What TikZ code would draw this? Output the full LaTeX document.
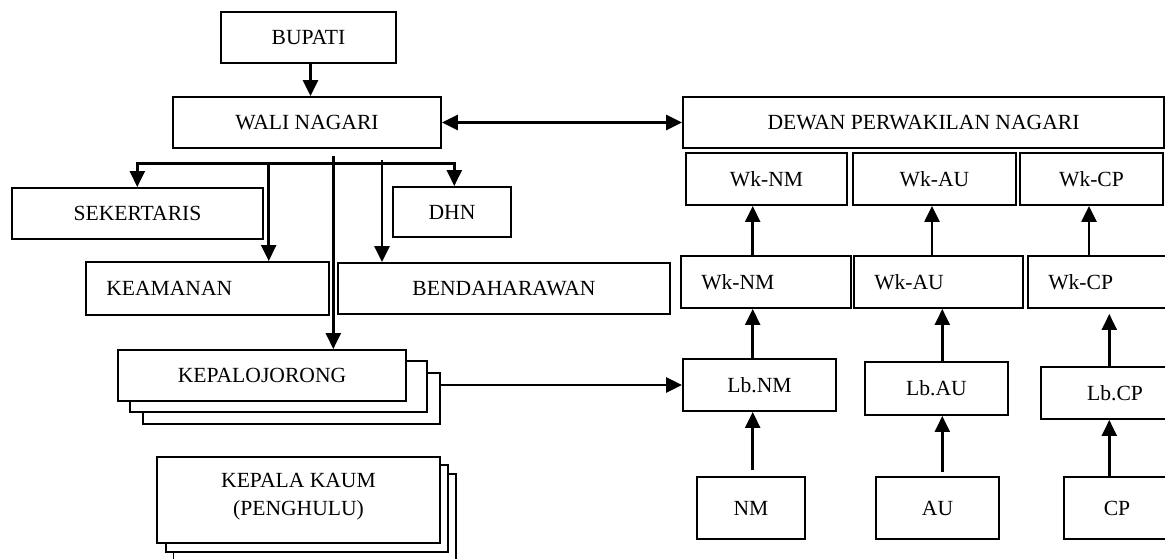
\documentclass[tikz,border=0pt]{standalone}
\usepackage{fontspec}
\setmainfont{Liberation Serif}
\usetikzlibrary{arrows.meta}
% box given by its corners: name, x1, y1, x2, y2, text
\newcommand\orgbox[6]{%
  \node[box, minimum width={(#4)-(#2)}, minimum height={(#5)-(#3)}]
    (#1) at ({((#2)+(#4))/2},{((#3)+(#5))/2}) {#6};}
\begin{document}
\begin{tikzpicture}[x=1pt, y=-1pt,
  font=\fontsize{21.6}{28}\selectfont,
  box/.style={draw, rectangle, line width=1.9pt, inner sep=0pt, fill=white},
  arr/.style={line width=2.5pt, -{Triangle[length=16pt,width=15pt]}},
  darr/.style={line width=2.5pt, {Triangle[length=16pt,width=15pt]}-{Triangle[length=16pt,width=15pt]}},
  txt/.style={inner sep=0pt}]
\useasboundingbox (0,0) rectangle (1165,559);
\fill[white] (0,0) rectangle (1165,559);
\clip (0,0) rectangle (1165,559);

% left side: executive
\orgbox{bupati}{221}{12}{396}{63}{BUPATI}
\orgbox{wali}{173}{97}{441}{148}{WALI NAGARI}
\orgbox{sek}{12}{188}{263}{239}{SEKERTARIS}
\orgbox{dhn}{393}{187}{511}{237}{DHN}
\orgbox{keam}{86}{262}{329}{315}{}
\node[txt, anchor=west] (keamt) at ([xshift=21pt]keam.west) {KEAMANAN};
\orgbox{bend}{338}{263}{670}{314}{BENDAHARAWAN}

% stacked boxes: jorong heads
\orgbox{kj3}{143}{373}{440}{424}{}
\orgbox{kj2}{130}{361}{427}{412}{}
\orgbox{kj}{118}{350}{406}{401}{KEPALOJORONG}

% stacked boxes: clan heads
\orgbox{kk3}{173.5}{474}{456}{590}{}
\orgbox{kk2}{166}{465}{448}{552}{}
\orgbox{kk}{157}{457}{440}{543}{}
\node[txt, align=center] (kkt) at (298.5,497) {KEPALA KAUM\\(PENGHULU)};

% right side: council
\orgbox{dewan}{683}{97}{1164}{148}{DEWAN PERWAKILAN NAGARI}
\orgbox{wk1a}{686}{153}{847}{205}{Wk-NM}
\orgbox{wk1b}{853}{153}{1016}{205}{Wk-AU}
\orgbox{wk1c}{1020}{153}{1163}{205}{Wk-CP}
\orgbox{wk2a}{681}{256}{851}{308}{}
\orgbox{wk2b}{854}{256}{1023}{308}{}
\orgbox{wk2c}{1028}{256}{1185}{308}{}
\node[txt, anchor=west] (wk2at) at ([xshift=21pt]wk2a.west) {Wk-NM};
\node[txt, anchor=west] (wk2bt) at ([xshift=21pt]wk2b.west) {Wk-AU};
\node[txt, anchor=west] (wk2ct) at ([xshift=21pt]wk2c.west) {Wk-CP};
\orgbox{lba}{683}{359}{836}{411}{Lb.NM}
\orgbox{lbb}{865}{362}{1008}{415}{Lb.AU}
\orgbox{lbc}{1041}{367}{1189}{419}{Lb.CP}
\orgbox{nm}{697}{477}{805}{539}{NM}
\orgbox{au}{876}{477}{999}{539}{AU}
\orgbox{cp}{1064}{477}{1170}{539}{CP}

% connectors, left side
\draw[arr] ([xshift=2pt]bupati.south) -- ([xshift=2pt]bupati.south |- wali.north);
\draw[darr] (wali.east) -- (dewan.west);
\coordinate (bl) at (137.3,163.3);
\coordinate (brt) at (454.3,163.3);
\draw[darr] (bl |- sek.north) -- (bl) -- (brt) -- (brt |- dhn.north);
\coordinate (vk) at (268.7,163.3);
\coordinate (vj) at (333.3,156);
\coordinate (vb) at (382,160);
\draw[arr] (vk) -- (vk |- keam.north);
\draw[arr] (vj) -- (vj |- kj.north);
\draw[arr] (vb) -- (vb |- bend.north);
\draw[arr] (kj3.east |- lba.west) -- (lba.west);

% connectors, right side columns
\coordinate (ca) at (752.7,0);
\coordinate (cbl) at (942.3,0);
\coordinate (cbu) at (932,0);
\coordinate (ccl) at (1109.3,0);
\coordinate (ccu) at (1089,0);
\draw[arr, shorten <=6pt] (ca |- nm.north) -- (ca |- lba.south);
\draw[arr] (ca |- lba.north) -- (ca |- wk2a.south);
\draw[arr] (ca |- wk2a.north) -- (ca |- wk1a.south);
\draw[arr, shorten <=4pt] (cbl |- au.north) -- (cbl |- lbb.south);
\draw[arr] (cbl |- lbb.north) -- (cbl |- wk2b.south);
\draw[arr] (cbu |- wk2b.north) -- (cbu |- wk1b.south);
\draw[arr] (ccl |- cp.north) -- (ccl |- lbc.south);
\draw[arr, shorten >=5pt] (ccl |- lbc.north) -- (ccl |- wk2c.south);
\draw[arr] (ccu |- wk2c.north) -- (ccu |- wk1c.south);
\end{tikzpicture}
\end{document}
